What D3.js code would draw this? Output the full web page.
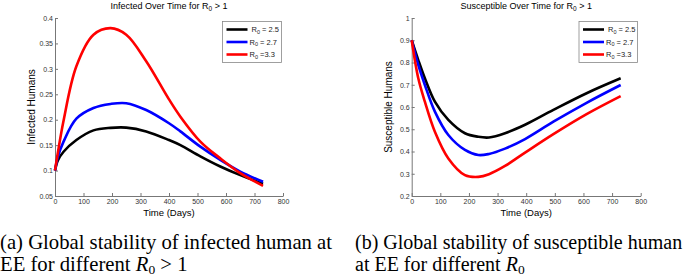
<!DOCTYPE html>
<html>
<head>
<meta charset="utf-8">
<script src="https://cdn.jsdelivr.net/npm/d3@7"></script>
<style>
  body { margin: 0; background: #fff; }
  svg { display: block; }
  .tick text { font-family: Arial, "Liberation Sans", sans-serif; font-size: 7px; fill: #333; }
  .axis path, .axis line { stroke: #777; }
</style>
</head>
<body>
<div id="chart-area"></div>
<script>
/*
*    two SIR panels for different R0
*/
var width = 685;
var height = 276;

// left panel: infected humans
var daysI = [0, 10, 30, 75, 135, 195, 250, 320, 400, 440, 510, 580, 650, 730];
var infR25 = [0.10, 0.12, 0.137, 0.160, 0.179, 0.184, 0.1845, 0.177, 0.160, 0.150, 0.128, 0.108, 0.091, 0.074];
var infR27 = [0.10, 0.127, 0.157, 0.202, 0.223, 0.231, 0.2325, 0.219, 0.193, 0.177, 0.147, 0.121, 0.098, 0.078];
var infR33 = [0.10, 0.135, 0.198, 0.305, 0.367, 0.380, 0.367, 0.315, 0.240, 0.206, 0.157, 0.124, 0.095, 0.070];

// right panel: susceptible humans
var daysS = [0, 23, 46, 81, 128, 186, 233, 270, 326, 396, 495, 611, 730];
var susR25 = [0.90, 0.811, 0.729, 0.624, 0.542, 0.482, 0.466, 0.463, 0.482, 0.520, 0.587, 0.662, 0.729];
var susR27 = [0.90, 0.789, 0.699, 0.579, 0.474, 0.407, 0.384, 0.389, 0.413, 0.456, 0.534, 0.619, 0.699];
var susR33 = [0.90, 0.729, 0.624, 0.489, 0.369, 0.294, 0.286, 0.298, 0.335, 0.395, 0.478, 0.568, 0.649];

var legendVals = ["2.5", "2.7", "3.3"];
var legendSep = [" = ", " = ", " ="];
var colors = ["#000000", "#0000ff", "#ff0000"];
var xTicks = [0, 100, 200, 300, 400, 500, 600, 700, 800];
var yTicksI = [0.05, 0.1, 0.15, 0.2, 0.25, 0.3, 0.35, 0.4];
var yTicksS = [0.2, 0.3, 0.4, 0.5, 0.6, 0.7, 0.8, 0.9, 1];

var svg = d3.select("#chart-area")
    .append("svg")
        .attr("width", width)
        .attr("height", height);

var sans = "Arial, 'Liberation Sans', sans-serif";

function drawPanel(p) {
    var x = d3.scaleLinear()
        .domain([0, 800])
        .range([p.left, p.right]);
    var y = d3.scaleLinear()
        .domain(p.yDomain)
        .range([p.bottom, p.top]);

    var g = svg.append("g");

    g.append("g")
        .attr("class", "axis")
        .attr("transform", "translate(0, " + p.bottom + ")")
        .call(d3.axisBottom(x).tickValues(xTicks).tickSizeInner(-3).tickSizeOuter(0).tickPadding(3))
        .selectAll("text").attr("dy", "0.7em");

    g.append("g")
        .attr("class", "axis")
        .attr("transform", "translate(" + p.left + ", 0)")
        .call(d3.axisLeft(y).tickValues(p.yTicks).tickSizeInner(-3).tickSizeOuter(0).tickPadding(2)
            .tickFormat(d3.format("~g")));

    var line = d3.line()
        .x((d) => { return x(d[0]); })
        .y((d) => { return y(d[1]); })
        .curve(d3.curveCatmullRom.alpha(0.5));

    p.series.forEach((vals, i) => {
        g.append("path")
            .datum(p.days.map((t, j) => { return [t, vals[j]]; }))
            .attr("fill", "none")
            .attr("stroke", colors[i])
            .attr("stroke-width", 2.6)
            .attr("stroke-linejoin", "round")
            .attr("d", line);
    });

    // title
    var title = g.append("text")
        .attr("x", (p.left + p.right) / 2)
        .attr("y", 9)
        .attr("text-anchor", "middle")
        .attr("font-family", sans)
        .attr("font-size", "9px")
        .text(p.title);
    title.append("tspan").attr("font-size", "6.5px").attr("dy", "2").text("0");
    title.append("tspan").attr("dy", "-2").text(" > 1");

    // axis labels
    g.append("text")
        .attr("x", (p.left + p.right) / 2)
        .attr("y", 216)
        .attr("text-anchor", "middle")
        .attr("font-family", sans)
        .attr("font-size", "9.5px")
        .text("Time (Days)");

    g.append("text")
        .attr("transform", "translate(" + (p.left - 20) + ", " + ((p.top + p.bottom) / 2) + ") rotate(-90)")
        .attr("text-anchor", "middle")
        .attr("font-family", sans)
        .attr("font-size", "10px")
        .text(p.yLabel);

    // legend
    var lg = g.append("g");
    lg.append("rect")
        .attr("x", p.legX)
        .attr("y", 21.5)
        .attr("width", p.legW)
        .attr("height", 41)
        .attr("fill", "#fff")
        .attr("stroke", "#888")
        .attr("stroke-width", 0.8);
    legendVals.forEach((v, i) => {
        var ly = 29.5 + i * 12.5;
        lg.append("line")
            .attr("x1", p.legX + 4)
            .attr("x2", p.legX + 25)
            .attr("y1", ly)
            .attr("y2", ly)
            .attr("stroke", colors[i])
            .attr("stroke-width", 2.6);
        var t = lg.append("text")
            .attr("x", p.legX + (i == 0 ? 29 : 27))
            .attr("y", ly + 2.5)
            .attr("font-family", sans)
            .attr("font-size", "7.5px")
            .attr("fill", "#222")
            .text("R");
        t.append("tspan").attr("font-size", "5.5px").attr("dy", "1.5").text("0");
        t.append("tspan").attr("dy", "-1.5").text(legendSep[i] + v);
    });
}

drawPanel({
    left: 55, right: 283, top: 18, bottom: 196,
    yDomain: [0.05, 0.4], yTicks: yTicksI,
    days: daysI, series: [infR25, infR27, infR33],
    title: "Infected Over Time for R", yLabel: "Infected Humans",
    legX: 222.5, legW: 59
});

drawPanel({
    left: 411.7, right: 640.7, top: 18, bottom: 196,
    yDomain: [0.2, 1], yTicks: yTicksS,
    days: daysS, series: [susR25, susR27, susR33],
    title: "Susceptible Over Time for R", yLabel: "Susceptible Humans",
    legX: 579, legW: 58.5
});

// captions
var serif = "'Liberation Serif', 'Times New Roman', serif";
var capA = svg.append("g")
    .attr("font-family", serif)
    .attr("font-size", "20.7px")
    .attr("fill", "#000");

capA.append("text").attr("x", 0).attr("y", 249)
    .text("(a) Global stability of infected human at");
var c2 = capA.append("text").attr("x", 0).attr("y", 271)
    .text("EE for different ");
c2.append("tspan").attr("font-style", "italic").text("R");
c2.append("tspan").attr("font-size", "13.5px").attr("dy", "2.5").text("0");
c2.append("tspan").attr("dy", "-2.5").text(" > 1");

var capB = svg.append("g")
    .attr("font-family", serif)
    .attr("font-size", "20px")
    .attr("fill", "#000");

capB.append("text").attr("x", 355).attr("y", 249)
    .text("(b) Global stability of susceptible human");
var c4 = capB.append("text").attr("x", 355).attr("y", 271)
    .text("at EE for different ");
c4.append("tspan").attr("font-style", "italic").text("R");
c4.append("tspan").attr("font-size", "13.5px").attr("dy", "2.5").text("0");
</script>
</body>
</html>
